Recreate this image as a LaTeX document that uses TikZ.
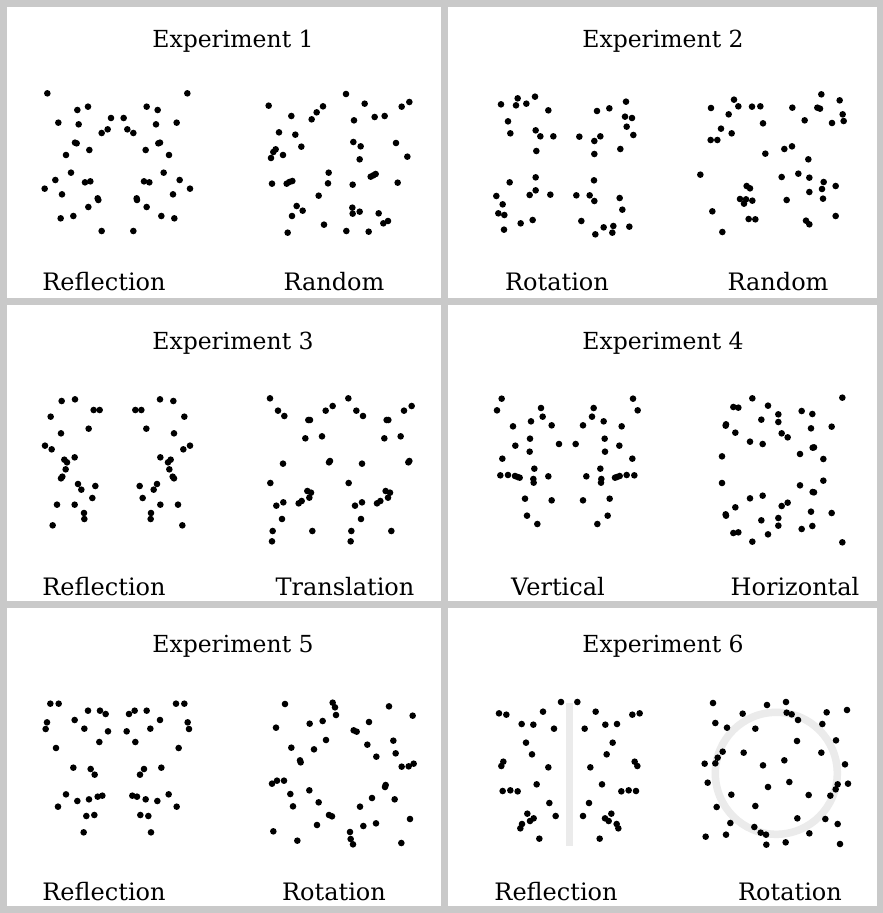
\documentclass[tikz,border=0pt]{standalone}
\usepackage{fontspec}
\setmainfont{DejaVu Serif}
\newcommand\dotset[3]{\foreach \a/\b in {#3} {\fill ({#1+\a/3},{#2+\b/3}) circle[radius=3.3];}}
\begin{document}
\begin{tikzpicture}[x=1pt,y=-1pt,
  frame/.style={draw=gray!42,line width=7},
  guide/.style={draw=black!8,line width=7.5},
  ttl/.style={anchor=base,inner sep=0,font=\fontsize{23.5}{28}\selectfont},
  lbl/.style={anchor=base,inner sep=0,font=\fontsize{24}{28}\selectfont}]
\fill[white] (0,0) rectangle (883,913);
\useasboundingbox (0,0) rectangle (883,913);
% guides
\draw[guide] (569.3,703) -- (569.3,846);
\draw[guide] (776.3,773.3) circle[radius=61];
% frame
\draw[frame] (3.5,3.5) rectangle (880,909);
\draw[frame] (444,3) -- (444,909);
\draw[frame] (3,301) -- (880,301);
\draw[frame] (3,604.5) -- (880,604.5);
% titles
\node[ttl] (t1) at (233,47) {Experiment 1};
\node[ttl] (t2) at (663,47) {Experiment 2};
\node[ttl] (t3) at (233,349) {Experiment 3};
\node[ttl] (t4) at (663,349) {Experiment 4};
\node[ttl] (t5) at (233,652) {Experiment 5};
\node[ttl] (t6) at (663,652) {Experiment 6};
% labels
\node[lbl] (l1a) at (104,290) {Reflection};
\node[lbl] (l1b) at (334,290) {Random};
\node[lbl] (l2a) at (557,290) {Rotation};
\node[lbl] (l2b) at (778,290) {Random};
\node[lbl] (l3a) at (104,595) {Reflection};
\node[lbl] (l3b) at (345,595) {Translation};
\node[lbl] (l4a) at (558,595) {Vertical};
\node[lbl] (l4b) at (795,595) {Horizontal};
\node[lbl] (l5a) at (104,900) {Reflection};
\node[lbl] (l5b) at (334,900) {Rotation};
\node[lbl] (l6a) at (556,900) {Reflection};
\node[lbl] (l6b) at (790,900) {Rotation};
% Experiment 1 reflection
\dotset{30}{80}{52/40,472/40,142/90,174/80,350/80,383/90,85/128,146/133,243/114,281/114,378/133,440/128,215/159,233/148,292/148,310/159,135/188,140/190,178/210,347/210,385/190,390/188,108/225,417/225,123/278,401/278,76/300,165/307,181/304,342/304,358/307,449/300,44/326,480/326,96/343,429/343,203/355,205/360,320/355,321/360,175/381,350/381,92/415,130/408,394/408,433/415,215/453,310/453}
% Experiment 1 random
\dotset{250}{80}{288/42,56/77,344/71,455/80,478/66,219/79,200/97,185/118,124/108,312/121,374/111,404/108,87/157,136/164,310/186,332/199,438/189,154/200,77/208,70/216,63/234,99/225,329/238,472/230,236/278,66/311,110/311,118/306,127/303,234/310,308/314,362/290,370/286,377/282,443/308,206/347,140/378,158/392,126/408,307/383,308/401,329/395,386/400,400/430,414/423,222/434,113/458,289/453,356/455}
% Experiment 2 rotation
\dotset{480}{80}{63/73,108/76,113/55,139/71,165/50,205/91,84/124,91/160,167/151,181/169,220/169,169/213,298/170,343/183,361/169,351/93,388/85,438/65,435/110,456/114,440/140,460/165,421/207,343/222,167/292,89/307,167/331,149/345,211/344,49/348,68/373,55/400,73/405,72/449,122/430,158/420,342/301,289/346,329/346,343/363,419/354,427/389,304/423,371/442,400/438,397/458,346/463,448/440}
% Experiment 2 random
\dotset{690}{80}{394/43,449/61,63/84,132/59,145/79,186/80,211/79,116/103,219/130,93/146,125/160,62/180,82/180,307/83,382/83,390/86,458/103,461/123,344/121,426/129,226/221,283/207,306/199,355/238,31/284,275/291,325/281,358/293,401/306,396/327,437/318,358/336,399/356,170/318,180/325,150/357,162/371,168/358,187/362,290/360,67/394,176/417,196/418,437/408,348/422,358/433,97/456}
% Experiment 3 reflection
\dotset{30}{385}{95/48,135/43,191/75,209/75,62/95,176/131,93/145,45/182,65/193,103/224,111/232,134/217,107/253,93/280,97/275,144/297,154/314,196/303,187/339,81/359,134/359,162/384,163/402,68/421,430/48,390/43,334/75,316/75,463/95,349/131,432/145,480/182,460/193,422/224,414/232,391/217,418/253,432/280,428/275,381/297,371/314,329/303,338/339,444/359,391/359,363/384,362/402,457/421}
% Experiment 3 translation
\dotset{250}{385}{60/40,84/77,103/93,175/105,180/105,227/77,248/63,166/160,216/154,99/236,240/228,237/232,61/294,172/318,183/323,178/338,100/352,79/362,146/355,155/348,96/402,68/438,187/438,66/469,295/40,319/77,339/93,410/105,415/105,462/77,485/63,403/160,452/154,336/236,478/228,475/232,296/294,407/318,420/323,414/338,336/352,315/362,381/355,391/348,333/402,304/438,424/438,302/469}
% Experiment 4 vertical
\dotset{480}{385}{65/41,51/76,183/69,188/95,99/124,153/109,215/121,150/161,106/182,149/200,237/177,67/221,163/251,61/271,84/270,105/273,119/278,113/276,160/282,161/293,205/274,135/341,215/346,141/392,172/417,459/41,473/76,341/69,336/95,425/124,371/109,309/121,374/161,418/182,375/200,287/177,457/221,361/251,463/271,440/270,419/273,405/278,411/276,364/282,363/293,319/274,389/341,309/346,383/392,352/417}
% Experiment 4 horizontal
\dotset{700}{385}{157/40,427/38,100/66,115/68,204/62,235/88,305/78,337/87,184/104,235/111,78/118,77/122,333/130,395/125,106/143,245/145,263/157,150/170,188/177,342/187,338/188,300/207,66/214,370/222,157/470,427/472,100/444,115/442,204/448,235/422,305/432,337/423,184/406,235/399,78/392,77/388,333/380,395/384,106/367,245/363,263/353,150/340,188/332,342/322,338/321,300/301,66/294,370/287}
% Experiment 5 reflection
\dotset{30}{690}{61/41,86/41,174/62,210/62,227/72,134/90,51/97,47/117,163/116,234/124,208/156,78/174,130/233,182/237,194/254,108/313,142/333,177/328,203/320,217/317,84/350,169/378,193/375,161/427,463/41,438/41,350/62,314/62,297/72,390/90,473/97,477/117,361/116,290/124,316/156,446/174,394/233,342/237,330/254,416/313,382/333,347/328,321/320,307/317,440/350,355/378,331/375,363/427}
% Experiment 5 rotation
\dotset{250}{690}{105/42,248/38,255/52,258/75,417/49,488/77,78/113,179/101,218/93,357/96,311/121,320/125,228/150,124/173,192/178,352/164,430/152,437/190,379/200,150/211,152/217,455/230,476/229,491/221,66/281,81/272,102/272,121/312,178/301,206/337,129/349,407/285,405/291,366/324,434/328,330/350,237/375,246/379,201/405,340/408,378/400,480/387,70/424,142/452,300/426,302/447,309/463,454/459}
% Experiment 6 reflection
\dotset{480}{690}{243/36,57/70,79/74,189/65,125/102,160/104,222/116,138/158,156/193,70/215,64/228,205/232,170/283,68/303,91/301,113/304,208/339,142/371,161/385,150/393,227/378,126/402,121/415,178/446,292/36,479/70,457/74,347/65,411/102,376/104,314/116,398/158,380/193,464/215,472/228,331/232,366/283,468/303,446/301,424/304,327/339,394/371,375/385,386/393,309/378,410/402,415/415,359/446}
% Experiment 6 rotation
\dotset{690}{690}{69/39,231/45,288/36,158/71,290/68,305/73,324/90,410/67,471/60,76/99,111/113,196/116,397/102,321/153,438/151,98/185,161/188,394/188,83/203,76/220,44/221,219/226,283/211,465/223,53/278,234/291,298/276,443/283,437/298,474/281,124/314,356/315,421/317,80/351,196/348,322/385,406/387,443/402,121/399,193/411,212/428,228/434,108/434,47/440,358/430,229/464,287/457,450/462}
\end{tikzpicture}
\end{document}
